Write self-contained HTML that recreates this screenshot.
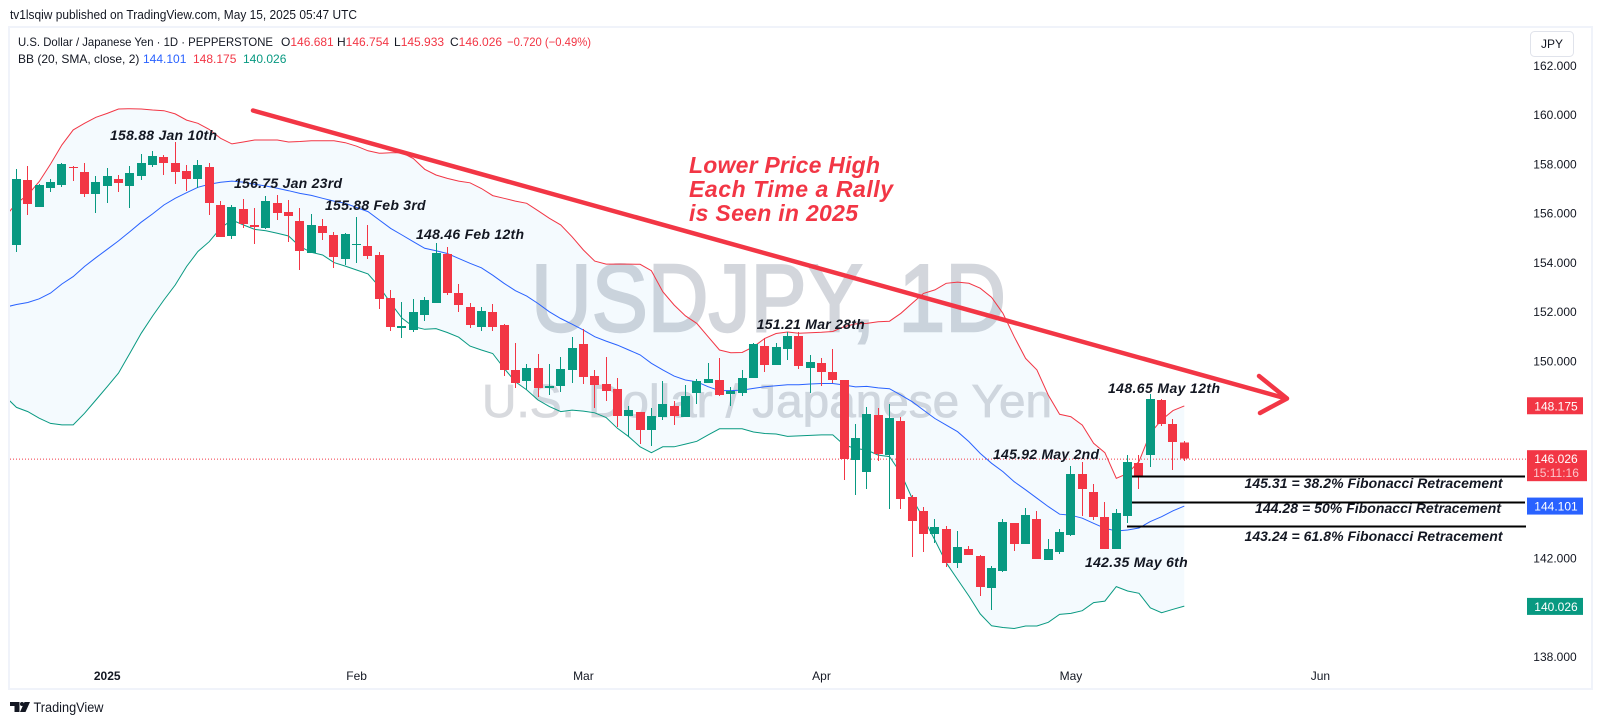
<!DOCTYPE html>
<html lang="en">
<head>
<meta charset="utf-8">
<title>USDJPY 1D chart</title>
<style>
html,body{margin:0;padding:0;background:#fff;width:1602px;height:725px;overflow:hidden}
svg{display:block}
text{font-family:"Liberation Sans",Arial,sans-serif;fill:#131722}
.note{font-family:"Liberation Sans",Arial,sans-serif;font-weight:bold;font-style:italic;font-size:14px;fill:#131722}
.big{font-weight:bold;font-style:italic;font-size:23px;fill:#f23645}
.leg{font-size:12px}
.axis{font-size:12px}
.badge{font-size:12px;fill:#fff}
</style>
</head>
<body>
<svg id="chart" xmlns="http://www.w3.org/2000/svg" width="1602" height="725" viewBox="0 0 1602 725">
  <defs><clipPath id="pane-clip"><rect x="10" y="28" width="1582" height="660"/></clipPath></defs>
  <rect x="0" y="0" width="1602" height="725" fill="#ffffff"/>
  <rect x="9" y="27" width="1583" height="662" fill="#ffffff" stroke="#f0f3fa" stroke-width="2"/>

  <text x="10" y="19" font-size="13" textLength="347" lengthAdjust="spacingAndGlyphs">tv1lsqiw published on TradingView.com, May 15, 2025 05:47 UTC</text>

  <text x="531" y="331" font-size="96" textLength="475" lengthAdjust="spacingAndGlyphs" style="fill:#d3d6dc;stroke:#d3d6dc;stroke-width:2.5">USDJPY, 1D</text>
  <text x="482" y="417" font-size="46" textLength="570" lengthAdjust="spacingAndGlyphs" style="fill:#d8dade;stroke:#d8dade;stroke-width:0.8">U.S. Dollar / Japanese Yen</text>

  <g id="bands" clip-path="url(#pane-clip)"></g>
  <line id="priceLine" x1="10" x2="1527" stroke="#f23645" stroke-width="1" stroke-dasharray="1 2"/>
  <g id="candles" clip-path="url(#pane-clip)" shape-rendering="crispEdges"></g>

  <g stroke="#f23645" stroke-width="4.5" fill="none" stroke-linecap="round" stroke-linejoin="round">
    <line x1="253" y1="110.5" x2="1286" y2="398.5"/>
    <polyline points="1259,376 1287,398.5 1260,413"/>
  </g>

  <g stroke="#000000" stroke-width="2" shape-rendering="crispEdges">
    <line x1="1132" y1="476.7" x2="1525" y2="476.7"/>
    <line x1="1132" y1="502.7" x2="1525" y2="502.7"/>
    <line x1="1127" y1="526.7" x2="1526" y2="526.7"/>
  </g>

  <text class="note" x="110" y="140" textLength="107">158.88 Jan 10th</text>
  <text class="note" x="234" y="188" textLength="108">156.75 Jan 23rd</text>
  <text class="note" x="325" y="210" textLength="100.6">155.88 Feb 3rd</text>
  <text class="note" x="416" y="239" textLength="108">148.46 Feb 12th</text>
  <text class="note" x="756.7" y="329" textLength="108">151.21 Mar 28th</text>
  <text class="note" x="993" y="459" textLength="106">145.92 May 2nd</text>
  <text class="note" x="1108" y="393" textLength="112">148.65 May 12th</text>
  <text class="note" x="1085" y="567" textLength="102.7">142.35 May 6th</text>
  <text class="note" x="1244.5" y="488" textLength="258">145.31 = 38.2% Fibonacci Retracement</text>
  <text class="note" x="1255" y="513" textLength="246">144.28 = 50% Fibonacci Retracement</text>
  <text class="note" x="1244.5" y="541" textLength="258">143.24 = 61.8% Fibonacci Retracement</text>

  <text class="big" x="689" y="173" textLength="191">Lower Price High</text>
  <text class="big" x="689" y="197" textLength="204">Each Time a Rally</text>
  <text class="big" x="689" y="221" textLength="169">is Seen in 2025</text>

  <g>
    <text class="leg" x="18" y="46" textLength="255" lengthAdjust="spacingAndGlyphs">U.S. Dollar / Japanese Yen · 1D · PEPPERSTONE</text>
    <text class="leg" x="281" y="46">O<tspan style="fill:#f23645">146.681</tspan></text>
    <text class="leg" x="337" y="46">H<tspan style="fill:#f23645">146.754</tspan></text>
    <text class="leg" x="394" y="46">L<tspan style="fill:#f23645">145.933</tspan></text>
    <text class="leg" x="450" y="46">C<tspan style="fill:#f23645">146.026</tspan></text>
    <text class="leg" x="507" y="46" textLength="84" lengthAdjust="spacingAndGlyphs" style="fill:#f23645">−0.720 (−0.49%)</text>
    <text class="leg" x="18" y="63">BB (20, SMA, close, 2)</text>
    <text class="leg" x="143" y="63" style="fill:#2962ff">144.101</text>
    <text class="leg" x="193" y="63" style="fill:#f23645">148.175</text>
    <text class="leg" x="243" y="63" style="fill:#089981">140.026</text>
  </g>

  <g>
    <rect x="1530.5" y="31.5" width="43" height="25" rx="4" fill="#ffffff" stroke="#e0e3eb"/>
    <text class="axis" x="1552" y="48" text-anchor="middle">JPY</text>
  </g>

  <g id="priceAxis"></g>
  <g id="timeAxis"></g>
  <g id="badges"></g>

  <g>
    <path d="M10 702h9.5v10h-5v-6H10zM24.5 702h5.5l-4.5 10h-5.5z" fill="#131722"/>
    <circle cx="22" cy="704" r="2" fill="#131722"/>
    <text x="33.5" y="712" font-size="13.5" textLength="70" lengthAdjust="spacingAndGlyphs">TradingView</text>
  </g>
</svg>
<script>
// ---- chart data ----
const opens = [154.70,157.34,156.25,157.02,157.14,157.87,157.67,156.78,157.10,157.39,157.10,157.51,157.95,158.28,158.03,157.71,157.39,157.87,156.33,155.07,156.17,155.52,155.39,156.41,156.04,155.68,154.38,155.48,155.11,154.14,154.71,154.67,154.30,152.55,151.33,151.25,151.86,152.35,154.34,152.76,152.19,151.38,151.98,151.46,149.63,149.18,149.71,148.90,148.98,149.63,150.68,149.38,149.06,148.86,147.76,147.92,147.19,147.72,148.16,147.72,148.69,149.10,149.22,148.65,148.69,149.30,150.60,149.83,150.48,151.01,149.71,149.91,149.55,149.22,145.97,145.48,147.80,146.17,147.55,144.47,143.90,142.96,143.17,141.79,142.36,142.07,140.77,141.46,143.42,142.56,143.58,141.91,142.24,142.93,145.41,144.67,143.66,142.36,143.70,145.85,146.18,148.41,147.44,146.68];
const highs = [157.79,157.91,157.18,157.39,158.03,157.91,158.03,157.51,157.83,157.55,157.91,158.40,158.52,158.36,158.88,157.95,158.16,158.03,156.49,156.33,156.57,156.21,156.69,156.74,156.53,156.21,155.97,155.76,155.23,155.19,155.84,155.52,154.42,152.88,152.39,152.51,152.59,154.79,154.62,153.12,152.35,152.19,152.31,151.50,150.73,149.87,150.28,149.87,150.15,150.97,151.29,149.63,150.15,149.30,148.16,147.92,148.08,149.18,148.37,149.02,149.26,149.91,150.11,148.94,149.63,150.72,150.93,150.72,151.17,151.17,150.24,150.11,150.48,149.22,147.43,148.12,148.08,148.25,147.72,144.55,144.06,143.57,143.29,143.09,142.48,142.11,141.66,143.57,143.42,144.02,143.90,142.77,143.17,145.73,145.89,145.00,144.27,143.98,146.18,146.18,148.66,148.45,147.64,146.75];
const lows = [154.42,155.92,156.25,156.86,157.06,157.30,156.65,156.00,156.41,156.86,156.21,157.34,157.87,157.55,157.18,156.90,157.02,155.92,155.03,154.95,155.39,154.75,155.35,155.72,154.83,153.69,154.38,154.91,153.77,153.89,153.97,154.14,152.11,151.21,150.93,151.17,151.62,152.35,152.68,151.98,151.33,151.21,151.21,149.39,148.90,148.82,148.53,148.61,148.73,149.10,149.06,148.08,148.37,147.31,146.91,146.62,146.54,147.60,147.39,147.72,148.25,149.10,148.57,148.16,148.57,149.30,149.55,149.83,150.03,149.67,148.69,148.98,149.10,145.16,144.55,144.79,145.93,143.98,143.98,142.03,142.23,142.60,141.62,141.58,142.11,140.45,139.88,141.42,142.28,142.56,141.95,141.91,142.16,142.89,143.70,143.54,142.36,142.36,143.42,144.80,145.69,147.36,145.57,145.93];
const closes = [157.39,156.37,157.14,157.26,157.99,157.83,156.78,157.26,157.51,157.22,157.63,158.03,158.32,158.03,157.67,157.39,157.95,156.41,155.03,156.25,155.56,155.44,156.49,156.00,155.88,154.46,155.52,155.19,154.22,155.15,154.75,154.26,152.51,151.38,151.42,151.98,152.47,154.38,152.76,152.27,151.46,152.03,151.38,149.63,149.10,149.71,148.90,148.98,149.67,150.52,149.34,149.02,148.77,147.76,148.00,147.19,147.76,148.25,147.76,148.57,149.18,149.26,148.61,148.77,149.30,150.68,149.83,150.56,151.01,149.79,149.95,149.55,149.22,146.01,146.86,147.84,146.21,147.68,144.39,143.49,142.96,143.25,141.79,142.44,142.11,140.81,141.58,143.45,142.56,143.74,141.95,142.36,143.05,145.41,144.80,143.66,142.36,143.82,145.89,145.32,148.45,147.44,146.71,146.03];

// Bollinger series: the first entry belongs to the session just left of the visible pane
const bbUpper = [155.86,156.40,156.74,157.28,157.99,158.77,159.38,159.65,159.89,160.05,160.23,160.24,160.23,160.19,160.16,160.03,159.78,159.65,159.40,159.04,158.81,158.89,158.97,158.97,158.97,158.89,158.91,158.94,158.94,158.94,158.86,158.72,158.53,158.43,158.45,158.45,158.22,157.78,157.55,157.41,157.30,157.23,157.00,156.71,156.60,156.49,156.40,156.10,155.79,155.52,155.04,154.50,154.05,153.93,153.93,153.93,153.92,153.66,152.81,152.27,151.83,151.52,150.98,150.44,150.33,150.34,150.57,150.91,151.11,151.17,151.12,151.14,151.16,151.19,151.39,151.50,151.52,151.59,151.61,151.93,152.34,152.74,152.88,153.15,153.20,153.15,152.95,152.58,151.93,150.98,150.10,149.63,148.61,147.83,147.73,147.39,146.65,146.27,145.23,145.43,145.91,147.06,147.60,147.98,148.17];
const bbBasis = [152.18,152.29,152.37,152.52,152.75,153.12,153.42,153.83,154.19,154.53,154.87,155.25,155.63,155.97,156.33,156.60,156.83,157.05,157.17,157.25,157.30,157.26,157.17,157.10,157.01,156.91,156.80,156.72,156.60,156.49,156.40,156.23,156.06,155.72,155.38,155.11,154.84,154.57,154.47,154.36,154.16,153.96,153.78,153.48,153.15,152.85,152.63,152.33,151.99,151.72,151.49,151.25,150.98,150.80,150.64,150.44,150.24,149.90,149.63,149.38,149.22,149.15,148.95,148.79,148.79,148.81,148.88,148.95,148.99,149.03,149.03,149.06,149.08,149.08,149.02,148.94,148.96,148.90,148.87,148.61,148.34,148.00,147.66,147.39,147.12,146.72,146.24,145.84,145.50,145.09,144.76,144.42,144.08,143.77,143.73,143.61,143.40,143.20,143.09,143.13,143.21,143.47,143.67,143.91,144.10];
const bbLower = [148.55,148.11,147.94,147.67,147.46,147.40,147.40,147.87,148.41,148.95,149.50,150.31,151.12,151.82,152.47,153.08,153.83,154.44,154.84,155.39,155.72,155.52,155.34,155.28,155.18,155.07,154.64,154.41,154.30,153.99,153.85,153.69,153.53,153.01,152.34,151.73,151.39,151.28,151.31,151.15,150.96,150.60,150.44,150.30,149.70,149.15,148.82,148.41,148.14,147.94,148.00,147.96,147.89,147.70,147.26,146.92,146.51,146.27,146.51,146.51,146.62,146.73,146.99,147.24,147.24,147.24,147.11,147.05,147.03,146.93,146.95,146.97,146.99,146.99,146.58,146.44,146.38,146.17,146.11,145.43,144.41,143.60,142.72,141.80,141.12,140.45,139.72,139.24,139.17,139.13,139.23,139.23,139.38,139.70,139.74,139.85,140.18,140.24,140.83,140.65,140.56,139.97,139.77,139.91,140.04];

const priceTicks = [162,160,158,156,154,152,150,142,138];
const timeLabels = ["2025","Feb","Mar","Apr","May","Jun"];
const timeTickBars = [8,30,50,71,93,115];
const lastClose = 146.026;
const countdown = "15:11:16";
const upperLast = 148.175;
const basisLast = 144.101;
const lowerLast = 140.026;

// ---- axis functions ----
function xOf(bar){ return 16.5 + 11.338 * bar; }
function yOf(price){ return 557.8 + (142 - price) * 24.62; }

const NS = 'http://www.w3.org/2000/svg';
function make(tag, parent){
  const el = document.createElementNS(NS, tag);
  parent.appendChild(el);
  return el;
}
function linePoints(series){
  return series.map(function(v, k){ return xOf(k - 1).toFixed(1) + ',' + yOf(v).toFixed(1); });
}

// ---- Bollinger fill and lines ----
const bandsG = document.getElementById('bands');
const fill = make('polygon', bandsG);


fill.setAttribute('points', linePoints(bbUpper).concat(linePoints(bbLower).reverse()).join(' '));
fill.setAttribute('fill', 'rgba(33,150,243,0.05)');

const upperLine = make('polyline', bandsG);


upperLine.setAttribute('points', linePoints(bbUpper).join(' '));
upperLine.setAttribute('fill', 'none');
upperLine.setAttribute('stroke', '#f23645');

const basisLine = make('polyline', bandsG);


basisLine.setAttribute('points', linePoints(bbBasis).join(' '));
basisLine.setAttribute('fill', 'none');
basisLine.setAttribute('stroke', '#2962ff');

const lowerLine = make('polyline', bandsG);


lowerLine.setAttribute('points', linePoints(bbLower).join(' '));
lowerLine.setAttribute('fill', 'none');
lowerLine.setAttribute('stroke', '#089981');

// ---- candles ----
const candlesG = document.getElementById('candles');
opens.forEach(function(open, i){
  const close = closes[i];
  const color = close >= open ? '#089981' : '#f23645';
  const left = Math.round(xOf(i) - 4.5);

  const wick = make('rect', candlesG);
  
  
  wick.setAttribute('x', left + 4);
  wick.setAttribute('width', 1);
  wick.setAttribute('y', yOf(highs[i]));
  wick.setAttribute('height', Math.max(1, yOf(lows[i]) - yOf(highs[i])));
  wick.setAttribute('fill', color);

  const body = make('rect', candlesG);
  
  
  body.setAttribute('x', left);
  body.setAttribute('width', 9);
  body.setAttribute('y', yOf(Math.max(open, close)));
  body.setAttribute('height', Math.max(1, Math.abs(yOf(open) - yOf(close))));
  body.setAttribute('fill', color);
});

// ---- last price line ----
const priceLine = document.getElementById('priceLine');
priceLine.setAttribute('y1', yOf(lastClose) + 0.5);
priceLine.setAttribute('y2', yOf(lastClose) + 0.5);

// ---- axes ----
const priceAxis = document.getElementById('priceAxis');
priceTicks.forEach(function(p){
  const t = make('text', priceAxis);
  
  
  t.setAttribute('class', 'axis');
  t.setAttribute('x', 1555);
  t.setAttribute('y', yOf(p) + 4.5);
  t.setAttribute('text-anchor', 'middle');
  t.textContent = p.toFixed(3);
});

const timeAxis = document.getElementById('timeAxis');
timeLabels.forEach(function(label, k){
  const t = make('text', timeAxis);
  
  
  t.setAttribute('class', 'axis');
  t.setAttribute('x', xOf(timeTickBars[k]));
  t.setAttribute('y', 680);
  t.setAttribute('text-anchor', 'middle');
  if (k === 0) t.setAttribute('font-weight', 'bold');
  t.textContent = label;
});

// ---- price badges ----
const badgesG = document.getElementById('badges');
function addBadge(value, color, tall){
  const cy = yOf(value);
  const r = make('rect', badgesG);
  
  
  r.setAttribute('x', 1527);
  r.setAttribute('y', cy - 8.5);
  r.setAttribute('width', tall ? 60 : 56);
  r.setAttribute('height', tall ? 31 : 17);
  r.setAttribute('fill', color);
  const t = make('text', badgesG);
  
  
  t.setAttribute('class', 'badge');
  t.setAttribute('x', 1556);
  t.setAttribute('y', cy + 4.5);
  t.setAttribute('text-anchor', 'middle');
  t.textContent = value.toFixed(3);
  if (tall) {
    const c = make('text', badgesG);
    
    
    c.setAttribute('class', 'badge');
    c.setAttribute('x', 1556);
    c.setAttribute('y', cy + 18.5);
    c.setAttribute('text-anchor', 'middle');
    c.setAttribute('style', 'fill:#fbc5ca');
    c.textContent = countdown;
  }
}
addBadge(upperLast, '#f23645', false);
addBadge(lastClose, '#f23645', true);
addBadge(basisLast, '#2962ff', false);
addBadge(lowerLast, '#089981', false);
</script>
</body>
</html>
